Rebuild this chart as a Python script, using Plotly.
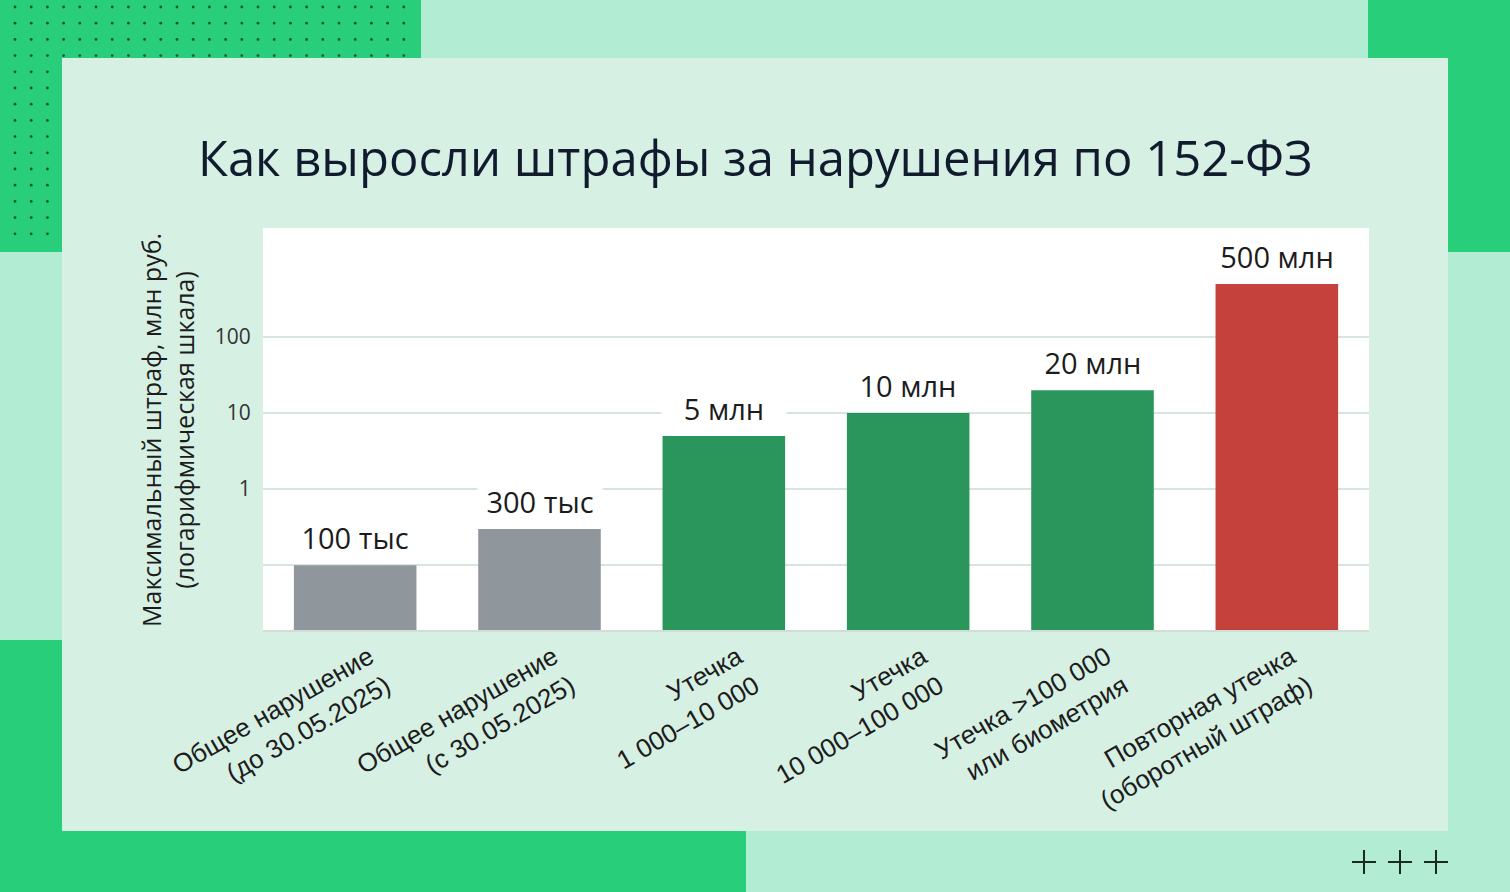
import numpy as np
import plotly.graph_objects as go

# data (млн руб.)
categories = [
    "Общее нарушение<br>(до 30.05.2025)",
    "Общее нарушение<br>(с 30.05.2025)",
    "Утечка<br>1 000–10 000",
    "Утечка<br>10 000–100 000",
    "Утечка >100 000<br>или биометрия",
    "Повторная утечка<br>(оборотный штраф)",
]
fines = [0.1, 0.3, 5, 10, 20, 500]
fine_labels = ["100 тыс", "300 тыс", "5 млн", "10 млн", "20 млн", "500 млн"]
bar_colors = ["#8f969c", "#8f969c", "#2b965b", "#2b965b", "#2b965b", "#c4413c"]
tick_vals = [0.1, 1, 10, 100]
tick_text = ["", "1", "10", "100"]

W, H = 1510, 892
PL, PR, PT, PB = 263, 1369, 228, 630   # plot area in pixels


def px(x):
    return (x - PL) / (PR - PL)


def py(y):
    return (PB - y) / (PB - PT)


def rect(x0, y0, x1, y1, color):
    return dict(type="rect", xref="paper", yref="paper", layer="below",
                x0=px(x0), x1=px(x1), y0=py(y1), y1=py(y0),
                fillcolor=color, line=dict(width=0))


MINT = "#b2edd3"
GREEN = "#28ce7a"
PANEL = "#d6f0e4"

shapes = [
    rect(0, 0, 421, 252, GREEN),
    rect(1368, 0, W, 252, GREEN),
    rect(0, 640, 746, H, GREEN),
]
# dot pattern in the top-left block
for yy in np.arange(7, 250, 16.2):
    for xx in np.arange(15, 418, 16.2):
        shapes.append(dict(type="circle", xref="paper", yref="paper", layer="below",
                           x0=px(xx - 1.4), x1=px(xx + 1.4),
                           y0=py(yy + 1.4), y1=py(yy - 1.4),
                           fillcolor="#145436", line=dict(width=0)))
shapes.append(rect(62, 58, 1448, 831, PANEL))
shapes.append(rect(PL, PT, PR, PB, "#ffffff"))
# "+ + +" mark bottom right
for cx in [1364, 1400, 1436]:
    shapes.append(dict(type="line", xref="paper", yref="paper", layer="above",
                       x0=px(cx - 12), x1=px(cx + 12), y0=py(862), y1=py(862),
                       line=dict(color="#1b2a22", width=2)))
    shapes.append(dict(type="line", xref="paper", yref="paper", layer="above",
                       x0=px(cx), x1=px(cx), y0=py(850), y1=py(874),
                       line=dict(color="#1b2a22", width=2)))

fig = go.Figure(go.Bar(
    x=categories, y=fines, marker=dict(color=bar_colors, line=dict(width=0)),
    hoverinfo="skip",
))

annotations = []
for c, v, t in zip(categories, fines, fine_labels):
    annotations.append(dict(
        x=c, y=np.log10(v), xref="x", yref="y", text=t, showarrow=False,
        yanchor="bottom", yshift=6, width=122, bgcolor="#ffffff",
        font=dict(family="Open Sans", size=29, color="#1c1c1c"),
    ))
annotations.append(dict(
    x=px(755), y=py(157), xref="paper", yref="paper", showarrow=False,
    xanchor="center", yanchor="middle",
    text="Как выросли штрафы за нарушения по 152-ФЗ",
    font=dict(family="Open Sans", size=49, color="#101b2e"),
))
annotations.append(dict(
    x=px(167), y=py(430), xref="paper", yref="paper", showarrow=False,
    xanchor="center", yanchor="middle", textangle=-90,
    text="Максимальный штраф, млн руб.<br>(логарифмическая шкала)",
    font=dict(family="Open Sans", size=25, color="#1c1c1c"),
))

fig.update_layout(
    width=W, height=H,
    margin=dict(l=PL, r=W - PR, t=PT, b=H - PB, autoexpand=False),
    paper_bgcolor=MINT, plot_bgcolor="rgba(0,0,0,0)",
    showlegend=False, bargap=0.335,
    shapes=shapes, annotations=annotations,
)
fig.update_xaxes(
    tickangle=-30, showgrid=False, showline=True, linecolor="#d3ddd8", linewidth=1.5,
    ticklabelshift=14,
    tickfont=dict(family="Liberation Sans", size=26, color="#1c1c1c"),
)
fig.update_yaxes(
    type="log", range=[-1.853, 3.435], tickvals=tick_vals, ticktext=tick_text,
    showgrid=True, gridcolor="#d6e5de", gridwidth=1.5, zeroline=False,
    ticks="outside", ticklen=7, tickcolor="rgba(0,0,0,0)",
    tickfont=dict(family="Open Sans", size=21, color="#333333"),
)

fig.write_html("out.html", config={"displayModeBar": False},
               post_script="document.body.style.margin='0';")
